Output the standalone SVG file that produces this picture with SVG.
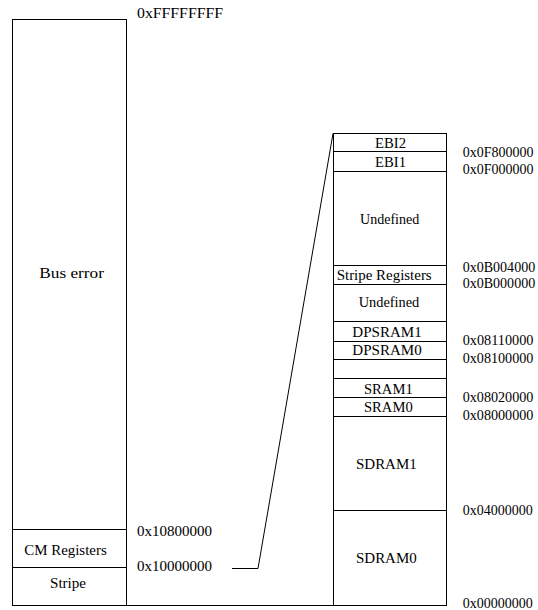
<svg xmlns="http://www.w3.org/2000/svg" width="538" height="610" viewBox="0 0 538 610">
<style>
.box{fill:#fff;stroke:#000;stroke-width:1}
.ln{stroke:#000;stroke-width:1;fill:none}
.t{font-family:'Liberation Serif','Times New Roman',Times,serif;font-size:14.5px;fill:#000}
.adr{font-size:13.8px}
</style>
<rect width="538" height="610" fill="#fff"/>
<g id="connectors">
<polyline class="ln" points="232,568.5 258,568.5 333,133.5"/>
<line class="ln" x1="12" y1="605.5" x2="447" y2="605.5"/>
</g>
<g id="left-map" class="t">
<rect class="box" x="12.5" y="19.5" width="114" height="586"/>
<g id="bus-error"><text x="39.3" y="277.7" textLength="64.7" lengthAdjust="spacingAndGlyphs">Bus error</text></g>
<g id="cm-registers"><line class="ln" x1="12.5" y1="529.5" x2="126.5" y2="529.5"/><text x="24.3" y="555" textLength="82.4" lengthAdjust="spacingAndGlyphs">CM Registers</text></g>
<g id="stripe"><line class="ln" x1="12.5" y1="567.5" x2="126.5" y2="567.5"/><text x="50" y="588" textLength="36" lengthAdjust="spacingAndGlyphs">Stripe</text></g>
<text x="137" y="18.3" textLength="86" lengthAdjust="spacingAndGlyphs">0xFFFFFFFF</text>
<text x="137" y="536" textLength="75" lengthAdjust="spacingAndGlyphs">0x10800000</text>
<text x="137" y="571" textLength="75" lengthAdjust="spacingAndGlyphs">0x10000000</text>
</g>
<g id="right-map" class="t">
<rect class="box" x="333.5" y="133.5" width="113" height="472"/>
<g id="ebi2"><text x="375" y="148.3" textLength="31" lengthAdjust="spacingAndGlyphs">EBI2</text></g>
<g id="ebi1"><line class="ln" x1="333.5" y1="151.5" x2="446.5" y2="151.5"/><text x="375" y="167.3" textLength="31" lengthAdjust="spacingAndGlyphs">EBI1</text></g>
<g id="undefined-1"><line class="ln" x1="333.5" y1="171.5" x2="446.5" y2="171.5"/><text x="360" y="224.3" textLength="59.3" lengthAdjust="spacingAndGlyphs">Undefined</text></g>
<g id="stripe-registers"><line class="ln" x1="333.5" y1="265.5" x2="446.5" y2="265.5"/><text x="336.7" y="280" textLength="95" lengthAdjust="spacingAndGlyphs">Stripe Registers</text></g>
<g id="undefined-2"><line class="ln" x1="333.5" y1="284.5" x2="446.5" y2="284.5"/><text x="358.7" y="306.7" textLength="60.6" lengthAdjust="spacingAndGlyphs">Undefined</text></g>
<g id="dpsram1"><line class="ln" x1="333.5" y1="321.5" x2="446.5" y2="321.5"/><text x="352.3" y="336.7" textLength="69.4" lengthAdjust="spacingAndGlyphs">DPSRAM1</text></g>
<g id="dpsram0"><line class="ln" x1="333.5" y1="341.5" x2="446.5" y2="341.5"/><text x="352.3" y="355" textLength="69.4" lengthAdjust="spacingAndGlyphs">DPSRAM0</text></g>
<g id="gap"><line class="ln" x1="333.5" y1="359.5" x2="446.5" y2="359.5"/></g>
<g id="sram1"><line class="ln" x1="333.5" y1="378.5" x2="446.5" y2="378.5"/><text x="364" y="394" textLength="48.7" lengthAdjust="spacingAndGlyphs">SRAM1</text></g>
<g id="sram0"><line class="ln" x1="333.5" y1="397.5" x2="446.5" y2="397.5"/><text x="364" y="412.3" textLength="48.7" lengthAdjust="spacingAndGlyphs">SRAM0</text></g>
<g id="sdram1"><line class="ln" x1="333.5" y1="416.5" x2="446.5" y2="416.5"/><text x="356" y="469.3" textLength="60.7" lengthAdjust="spacingAndGlyphs">SDRAM1</text></g>
<g id="sdram0"><line class="ln" x1="333.5" y1="510.5" x2="446.5" y2="510.5"/><text x="356" y="563.3" textLength="60.7" lengthAdjust="spacingAndGlyphs">SDRAM0</text></g>
</g>
<g id="addresses" class="t adr">
<text x="462.7" y="156.7" textLength="70.7" lengthAdjust="spacingAndGlyphs">0x0F800000</text>
<text x="462.7" y="174.3" textLength="70.7" lengthAdjust="spacingAndGlyphs">0x0F000000</text>
<text x="462.7" y="271.7" textLength="72.5" lengthAdjust="spacingAndGlyphs">0x0B004000</text>
<text x="462.7" y="288.3" textLength="72.5" lengthAdjust="spacingAndGlyphs">0x0B000000</text>
<text x="462.7" y="345" textLength="70.7" lengthAdjust="spacingAndGlyphs">0x08110000</text>
<text x="462.7" y="363.3" textLength="70.7" lengthAdjust="spacingAndGlyphs">0x08100000</text>
<text x="462.7" y="401.7" textLength="70.7" lengthAdjust="spacingAndGlyphs">0x08020000</text>
<text x="462.7" y="420" textLength="70.7" lengthAdjust="spacingAndGlyphs">0x08000000</text>
<text x="462.7" y="515" textLength="70" lengthAdjust="spacingAndGlyphs">0x04000000</text>
<text x="462.7" y="608" textLength="70" lengthAdjust="spacingAndGlyphs">0x00000000</text>
</g>
</svg>
